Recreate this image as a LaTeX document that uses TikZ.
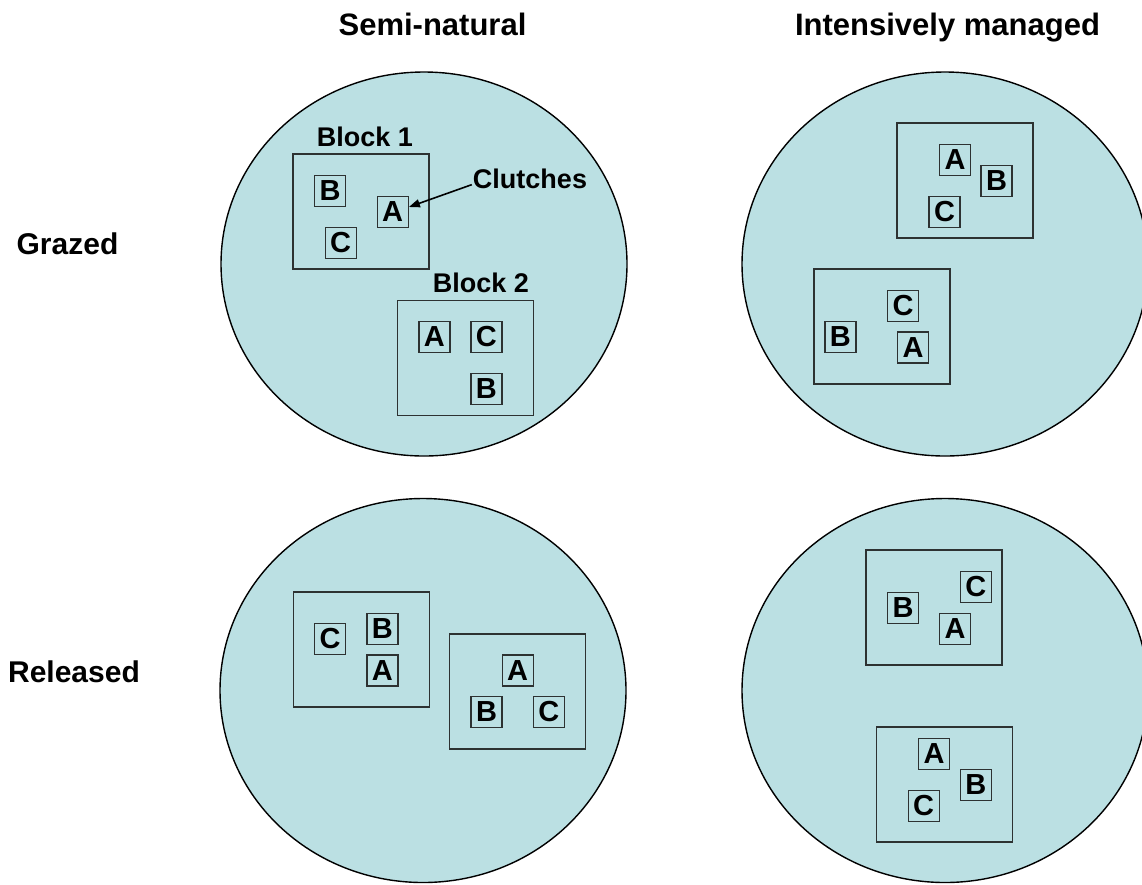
\documentclass[tikz,border=0pt]{standalone}
\usepackage{fontspec}
\setmainfont{Liberation Sans}
\usetikzlibrary{arrows.meta}
\definecolor{plotfill}{RGB}{187,224,227}
\definecolor{edgegray}{RGB}{45,50,50}
\tikzset{
  plot/.style={draw=black, line width=1.4pt, fill=plotfill},
  blockbox/.style={draw=edgegray, line width=1.8pt, minimum width=136pt, minimum height=115pt, inner sep=0pt},
  clutch/.style={draw=edgegray, line width=1.4pt, minimum width=31pt, minimum height=31pt, inner sep=0pt,
    font=\fontsize{29}{30}\selectfont\bfseries},
  colhead/.style={anchor=base, inner sep=0pt, font=\fontsize{31}{32}\selectfont\bfseries},
  rowhead/.style={anchor=base, inner sep=0pt, font=\fontsize{30}{31}\selectfont\bfseries},
  lbl/.style={anchor=base, inner sep=0pt, font=\fontsize{27}{28}\selectfont\bfseries},
}
\begin{document}
\begin{tikzpicture}[x=1pt, y=-1pt]
\useasboundingbox (0,0) rectangle (1142,884);
\clip (0,0) rectangle (1142,884);

% headings
\node[colhead] (hsemi) at (432.5,35.5) {Semi-natural};
\node[colhead] (hint) at (947.5,35.5) {Intensively managed};
\node[rowhead] (hgraz) at (67.5,254) {Grazed};
\node[rowhead] (hrel) at (74,682) {Released};

% plots
\draw[plot] (424,264) ellipse [x radius=203pt, y radius=192pt];
\draw[plot] (945,264) ellipse [x radius=203pt, y radius=192pt];
\draw[plot] (423,690.5) ellipse [x radius=203pt, y radius=192pt];
\draw[plot] (945,690.5) ellipse [x radius=203pt, y radius=192pt];

% top-left
\node[blockbox] (tl1) at (361,211.5) {};
\node[blockbox] (tl2) at (465.5,358) {};
\node[lbl] (blk1) at (365,146.7) {Block 1};
\node[lbl] (blk2) at (481,292.7) {Block 2};
\node[lbl] (clutches) at (530,188.3) {Clutches};
\node[clutch] (tl1b) at (330,191) {B};
\node[clutch] (tl1a) at (392.7,212) {A};
\node[clutch] (tl1c) at (340.7,243) {C};
\node[clutch] (tl2a) at (434.3,336.7) {A};
\node[clutch] (tl2c) at (486.3,336.7) {C};
\node[clutch] (tl2b) at (486.3,389) {B};
\draw[line width=1.6pt, -{Triangle[length=11pt, width=8pt]}] ([xshift=-1pt, yshift=-6pt]clutches.west) -- ([yshift=5pt]tl1a.east);

% top-right
\node[blockbox] (tr1) at (965,180.5) {};
\node[blockbox] (tr2) at (882,326.5) {};
\node[clutch] (tr1a) at (955,160) {A};
\node[clutch] (tr1b) at (996.5,181) {B};
\node[clutch] (tr1c) at (944.5,212) {C};
\node[clutch] (tr2c) at (903,306) {C};
\node[clutch] (tr2b) at (840.3,337) {B};
\node[clutch] (tr2a) at (913,347.5) {A};

% bottom-left
\node[blockbox] (bl1) at (361.5,649.5) {};
\node[blockbox] (bl2) at (517.5,691.5) {};
\node[clutch] (bl1c) at (330,639) {C};
\node[clutch] (bl1b) at (382.3,628.7) {B};
\node[clutch] (bl1a) at (382.3,670.3) {A};
\node[clutch] (bl2a) at (517.7,670.3) {A};
\node[clutch] (bl2b) at (486.5,712) {B};
\node[clutch] (bl2c) at (548.8,712) {C};

% bottom-right
\node[blockbox] (br1) at (934,607.5) {};
\node[blockbox] (br2) at (944.5,784.5) {};
\node[clutch] (br1c) at (975.8,586.8) {C};
\node[clutch] (br1b) at (903,607.8) {B};
\node[clutch] (br1a) at (955,628.8) {A};
\node[clutch] (br2a) at (934,753.7) {A};
\node[clutch] (br2b) at (975.8,785) {B};
\node[clutch] (br2c) at (923.7,805.8) {C};
\end{tikzpicture}
\end{document}
